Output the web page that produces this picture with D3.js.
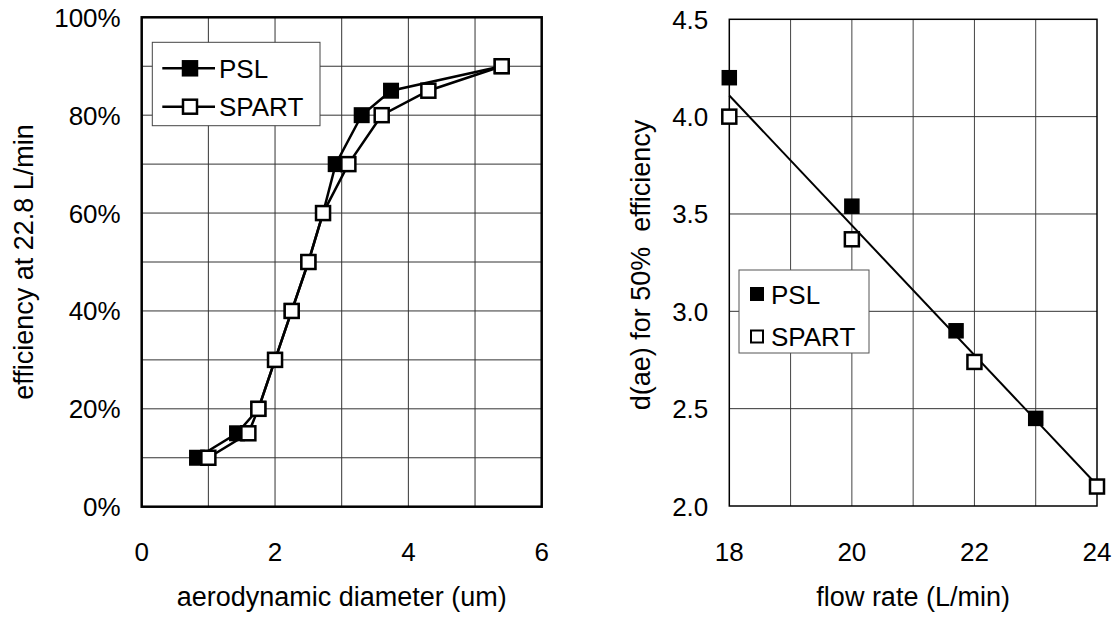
<!DOCTYPE html>
<html><head><meta charset="utf-8">
<script src="https://cdn.jsdelivr.net/npm/d3@7"></script>
<style>
body{margin:0;background:#fff}
text{font-family:"Liberation Sans",Arial,Helvetica,sans-serif;fill:#000}
</style>
</head><body>
<svg id="c" width="1113" height="618"></svg>
<script>
// ---- data ----
const leftPslX   = [0.83, 1.43, 1.75, 2.0, 2.25, 2.5, 2.72, 2.91, 3.3, 3.74, 5.4];
const leftPslY   = [10, 15, 20, 30, 40, 50, 60, 70, 80, 85, 90];
const leftSpartX = [1.0, 1.6, 1.75, 2.0, 2.25, 2.5, 2.72, 3.1, 3.6, 4.3, 5.4];
const leftSpartY = [10, 15, 20, 30, 40, 50, 60, 70, 80, 85, 90];
const leftXTicks = [0, 2, 4, 6];
const leftYTicks = [0, 20, 40, 60, 80, 100];
const leftXGrid  = [1, 2, 3, 4, 5];
const leftYGrid  = [10, 20, 30, 40, 50, 60, 70, 80, 90];

const rightPslX   = [18, 20, 21.7, 23];
const rightPslY   = [4.2, 3.54, 2.9, 2.45];
const rightSpartX = [18, 20, 22, 24];
const rightSpartY = [4.0, 3.37, 2.74, 2.1];
const rightXTicks = [18, 20, 22, 24];
const rightYTicks = [2.0, 2.5, 3.0, 3.5, 4.0, 4.5];
const rightXGrid  = [19, 20, 21, 22, 23];
const rightYGrid  = [2.5, 3.0, 3.5, 4.0];

const svg = d3.select("#c");
const FS = 26;   // tick labels
const TS = 27;   // axis titles

// ================= LEFT CHART =================
{
  const L = {x0:141.7, x1:541.7, y0:17.3, y1:506.7};
  const x = d3.scaleLinear().domain([0,6]).range([L.x0, L.x1]);
  const y = d3.scaleLinear().domain([0,100]).range([L.y1, L.y0]);
  const g = svg.append("g");
  g.selectAll(".vg").data(leftXGrid).join("line")
    .attr("x1", d=>x(d)).attr("x2", d=>x(d)).attr("y1", L.y0).attr("y2", L.y1)
    .attr("stroke", "#333").attr("stroke-width", 1);
  g.selectAll(".hg").data(leftYGrid).join("line")
    .attr("y1", d=>y(d)).attr("y2", d=>y(d)).attr("x1", L.x0).attr("x2", L.x1)
    .attr("stroke", "#333").attr("stroke-width", 1);
  g.append("rect").attr("x", L.x0).attr("y", L.y0).attr("width", L.x1-L.x0).attr("height", L.y1-L.y0)
    .attr("fill", "none").attr("stroke", "#000").attr("stroke-width", 2.5);

  g.selectAll(".xt").data(leftXTicks).join("text")
    .attr("x", d=>x(d)).attr("y", L.y1+54).attr("text-anchor","middle")
    .attr("font-size", FS).text(d=>d);
  g.selectAll(".yt").data(leftYTicks).join("text")
    .attr("x", L.x0-21).attr("y", d=>y(d)+9.5).attr("text-anchor","end")
    .attr("font-size", FS).text(d=>d+"%");
  g.append("text").attr("x", (L.x0+L.x1)/2).attr("y", 606).attr("text-anchor","middle")
    .attr("font-size", TS).text("aerodynamic diameter (um)");
  g.append("text").attr("transform", `translate(33,${(L.y0+L.y1)/2}) rotate(-90)`)
    .attr("text-anchor","middle").attr("font-size", TS).text("efficiency at 22.8 L/min");

  const line = d3.line().x(d=>x(d[0])).y(d=>y(d[1]));
  const psl = leftPslX.map((v,i)=>[v, leftPslY[i]]);
  const spart = leftSpartX.map((v,i)=>[v, leftSpartY[i]]);
  g.append("path").attr("d", line(psl)).attr("fill","none").attr("stroke","#000").attr("stroke-width",2.5);
  g.append("path").attr("d", line(spart)).attr("fill","none").attr("stroke","#000").attr("stroke-width",2.5);
  const S = 14;
  g.selectAll(".pm").data(psl).join("rect")
    .attr("x", d=>x(d[0])-S/2).attr("y", d=>y(d[1])-S/2).attr("width", S).attr("height", S)
    .attr("fill","#000").attr("stroke","#000").attr("stroke-width",2);
  g.selectAll(".sm").data(spart).join("rect")
    .attr("x", d=>x(d[0])-S/2).attr("y", d=>y(d[1])-S/2).attr("width", S).attr("height", S)
    .attr("fill","#fff").attr("stroke","#000").attr("stroke-width",2.5);

  const lg = g.append("g");
  lg.append("rect").attr("x",152.3).attr("y",42.3).attr("width",167.7).attr("height",83.4)
    .attr("fill","#fff").attr("stroke","#444").attr("stroke-width",1);
  [["PSL","#000",68.3],["SPART","#fff",106.7]].forEach(([t,f,yy])=>{
    lg.append("line").attr("x1",162.3).attr("x2",215).attr("y1",yy).attr("y2",yy)
      .attr("stroke","#000").attr("stroke-width",2.5);
    lg.append("rect").attr("x",190-S/2).attr("y",yy-S/2).attr("width",S).attr("height",S)
      .attr("fill",f).attr("stroke","#000").attr("stroke-width",2.5);
    lg.append("text").attr("x",219).attr("y",yy+9.5).attr("font-size",26).text(t);
  });
}

// ================= RIGHT CHART =================
{
  const R = {x0:729.3, x1:1097, y0:19.3, y1:506};
  const x = d3.scaleLinear().domain([18,24]).range([R.x0, R.x1]);
  const y = d3.scaleLinear().domain([2,4.5]).range([R.y1, R.y0]);
  const g = svg.append("g");
  g.selectAll(".vg").data(rightXGrid).join("line")
    .attr("x1", d=>x(d)).attr("x2", d=>x(d)).attr("y1", R.y0).attr("y2", R.y1)
    .attr("stroke", "#444").attr("stroke-width", 1);
  g.selectAll(".hg").data(rightYGrid).join("line")
    .attr("y1", d=>y(d)).attr("y2", d=>y(d)).attr("x1", R.x0).attr("x2", R.x1)
    .attr("stroke", "#333").attr("stroke-width", 1);
  g.append("rect").attr("x", R.x0).attr("y", R.y0).attr("width", R.x1-R.x0).attr("height", R.y1-R.y0)
    .attr("fill", "none").attr("stroke", "#000").attr("stroke-width", 1.5);

  g.selectAll(".xt").data(rightXTicks).join("text")
    .attr("x", d=>x(d)).attr("y", R.y1+55).attr("text-anchor","middle")
    .attr("font-size", FS).text(d=>d);
  g.selectAll(".yt").data(rightYTicks).join("text")
    .attr("x", R.x0-21).attr("y", d=>y(d)+9.5).attr("text-anchor","end")
    .attr("font-size", FS).text(d=>d.toFixed(1));
  g.append("text").attr("x", (R.x0+R.x1)/2).attr("y", 606).attr("text-anchor","middle")
    .attr("font-size", TS).text("flow rate (L/min)");
  g.append("text").attr("transform", `translate(650,265) rotate(-90)`)
    .attr("text-anchor","middle").attr("font-size", TS).attr("xml:space","preserve")
    .style("white-space","pre").text("d(ae) for 50%  efficiency");

  // linear trend line over all points
  const allX = rightPslX.concat(rightSpartX), allY = rightPslY.concat(rightSpartY);
  const mx = d3.mean(allX), my = d3.mean(allY);
  const slope = d3.sum(allX.map((v,i)=>(v-mx)*(allY[i]-my))) / d3.sum(allX.map(v=>(v-mx)*(v-mx)));
  const fx = v => my + slope*(v-mx);
  g.append("line").attr("x1", x(18)).attr("y1", y(fx(18))).attr("x2", x(24)).attr("y2", y(fx(24)))
    .attr("stroke","#000").attr("stroke-width",2);

  const S = 14;
  g.selectAll(".pm").data(rightPslX.map((v,i)=>[v,rightPslY[i]])).join("rect")
    .attr("x", d=>x(d[0])-S/2).attr("y", d=>y(d[1])-S/2).attr("width", S).attr("height", S)
    .attr("fill","#000").attr("stroke","#000").attr("stroke-width",1.5);
  g.selectAll(".sm").data(rightSpartX.map((v,i)=>[v,rightSpartY[i]])).join("rect")
    .attr("x", d=>x(d[0])-S/2).attr("y", d=>y(d[1])-S/2).attr("width", S).attr("height", S)
    .attr("fill","#fff").attr("stroke","#000").attr("stroke-width",2.5);

  const lg = g.append("g");
  lg.append("rect").attr("x",739).attr("y",270).attr("width",130).attr("height",83)
    .attr("fill","#fff").attr("stroke","#555").attr("stroke-width",1);
  const LS = 12;
  [["PSL","#000",294],["SPART","#fff",336.5]].forEach(([t,f,yy])=>{
    lg.append("rect").attr("x",757-LS/2).attr("y",yy-LS/2).attr("width",LS).attr("height",LS)
      .attr("fill",f).attr("stroke","#000").attr("stroke-width",2);
    lg.append("text").attr("x",771).attr("y",yy+9.5).attr("font-size",26).text(t);
  });
}
</script>
</body></html>
